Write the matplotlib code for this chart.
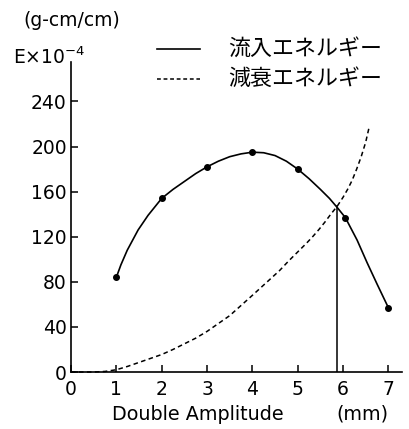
import matplotlib
matplotlib.use("Agg")
import matplotlib.pyplot as plt

# data
inflow_x = [1.0, 1.1, 1.24, 1.48, 1.7, 2.0, 2.25, 2.5, 2.75, 3.0, 3.25, 3.5, 3.75, 4.0,
            4.25, 4.5, 4.75, 5.0, 5.25, 5.5, 5.7, 5.87, 6.05, 6.31, 6.53, 6.75, 7.0]
inflow_y = [84, 95, 108, 126, 139, 154, 162, 169, 176, 182, 187, 191, 193.5, 195,
            194.5, 192, 187, 180, 171.5, 162, 154, 146, 137, 117, 97, 78, 57]
marker_x = [1, 2, 3, 4, 5, 6.05, 7]
marker_y = [84, 154, 182, 195, 180, 137, 57]
damp_x = [0, 0.5, 0.75, 1.0, 1.25, 1.5, 1.75, 2.0, 2.25, 2.5, 2.75, 3.0, 3.25, 3.5, 3.75,
          4.0, 4.3, 4.6, 4.8, 5.05, 5.2, 5.34, 5.47, 5.6, 5.73, 5.87, 6.0, 6.1, 6.2, 6.3,
          6.4, 6.5, 6.58]
damp_y = [0, 0, 0.5, 2, 5, 8.5, 12, 15.5, 20, 25, 30, 36, 43, 50, 59,
          68, 79, 90, 98.5, 108.5, 114.5, 120.5, 126.5, 133, 140, 147, 155, 162, 170, 180,
          191, 204, 218]
cross_x = 5.87
cross_y = 147
x_ticks = [0, 1, 2, 3, 4, 5, 6, 7]
y_ticks = [0, 40, 80, 120, 160, 200, 240]
legend_labels = ["流入エネルギー", "減衰エネルギー"]

W, H = 410, 429
fig = plt.figure(figsize=(W / 100, H / 100), dpi=100)
ax = fig.add_axes([71 / W, 57 / H, (402 - 71) / W, (372 - 62) / H])

ax.plot(inflow_x, inflow_y, color="black", lw=1.2, clip_on=False)
ax.plot(marker_x, marker_y, "o", color="black", ms=4, clip_on=False)
ax.plot(damp_x, damp_y, color="black", lw=1.1, linestyle=(0, (3, 2.2)), clip_on=False)
ax.plot([cross_x, cross_x], [0, cross_y], color="black", lw=1.1)

ax.set_xlim(0, 7.3)
ax.set_ylim(0, 275)
ax.spines["top"].set_visible(False)
ax.spines["right"].set_visible(False)
for s in ["left", "bottom"]:
    ax.spines[s].set_linewidth(1.2)
ax.set_xticks(x_ticks)
ax.set_yticks(y_ticks)
ax.set_xticklabels([str(v) for v in x_ticks])
ax.set_yticklabels([str(v) for v in y_ticks])
ax.tick_params(axis="both", direction="in", length=5, width=1.1, labelsize=13.5)
ax.tick_params(axis="x", pad=6)
ax.tick_params(axis="y", pad=3)

def px(x, y):
    return x / W, 1 - y / H

fig.text(*px(198, 414), "Double Amplitude", ha="center", va="center", fontsize=13.8)
fig.text(*px(362, 414), "(mm)", ha="center", va="center", fontsize=13.8)
fig.text(*px(23, 20), "(g-cm/cm)", ha="left", va="center", fontsize=13.5)
fig.text(*px(13, 57), r"E$\times$10$^{-4}$", ha="left", va="center", fontsize=13.5)

cjk = ["Noto Sans CJK JP", "DejaVu Sans"]
ax_leg = fig.add_axes([0, 0, 1, 1], facecolor="none")
ax_leg.set_xlim(0, W)
ax_leg.set_ylim(H, 0)
ax_leg.axis("off")
ax_leg.plot([157, 200], [49, 49], color="black", lw=1.2)
ax_leg.plot([157, 200], [79, 79], color="black", lw=1.1, linestyle=(0, (2.5, 1.8)))
ax_leg.text(228, 49, legend_labels[0], ha="left", va="center", fontsize=15.8, family=cjk)
ax_leg.text(228, 79, legend_labels[1], ha="left", va="center", fontsize=15.8, family=cjk)

fig.savefig("out.png", dpi=100)
